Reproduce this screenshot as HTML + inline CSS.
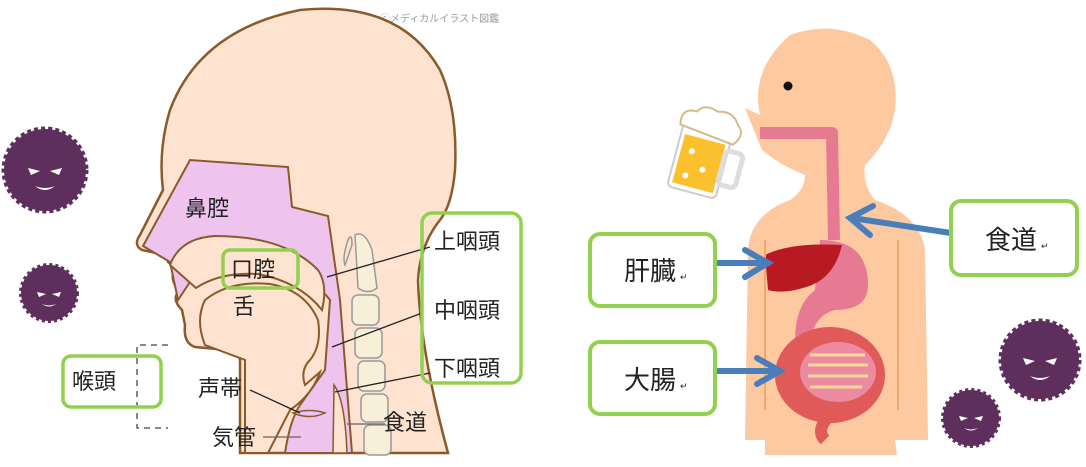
<!DOCTYPE html><html><head><meta charset="utf-8"><style>
body{margin:0;background:#fff;width:1086px;height:462px;overflow:hidden}
text{font-family:"Liberation Sans","Noto Sans CJK JP",sans-serif;fill:#222}
</style></head><body>
<svg width="1086" height="462" viewBox="0 0 1086 462" xmlns="http://www.w3.org/2000/svg">
<defs>
<g id="virus"><circle r="1" fill="#5e2f5c"/></g>
</defs>
<!-- viruses -->
<g>
<circle cx="45" cy="170" r="41" fill="#5e2f5c" stroke="#5e2f5c" stroke-width="5" stroke-dasharray="4 3"/>
<path d="M28 168 l12 3 l-9 4z M62 168 l-12 3 l9 4z" fill="#fff"/><path d="M35 186 q10 8 20 0 q-10 4 -20 0z" fill="#fff"/>
<circle cx="49" cy="293" r="28" fill="#5e2f5c" stroke="#5e2f5c" stroke-width="4" stroke-dasharray="3 3"/>
<path d="M37 292 l9 2 l-7 3z M61 292 l-9 2 l7 3z" fill="#fff"/><path d="M42 304 q7 5 14 0 q-7 3 -14 0z" fill="#fff"/>
<circle cx="1040" cy="360" r="39" fill="#5e2f5c" stroke="#5e2f5c" stroke-width="5" stroke-dasharray="4 3"/>
<path d="M1023 358 l12 3 l-9 4z M1057 358 l-12 3 l9 4z" fill="#fff"/><path d="M1030 376 q10 8 20 0 q-10 4 -20 0z" fill="#fff"/>
<circle cx="971" cy="418" r="28" fill="#5e2f5c" stroke="#5e2f5c" stroke-width="4" stroke-dasharray="3 3"/>
<path d="M959 416 l9 2 l-7 3z M983 416 l-9 2 l7 3z" fill="#fff"/><path d="M964 428 q7 5 14 0 q-7 3 -14 0z" fill="#fff"/>
</g>
<!-- head left -->
<text x="380" y="22" font-size="10" style="fill:#999">ⓒメディカルイラスト図鑑</text>
<path d="M240,453 L240,362 Q240,350 228,350 L195,347 Q183,343 185,325 L182,310 Q172,300 178,292 L175,285 Q170,275 176,268 L168,262 Q168,256 165,255 L142,250 Q133,245 140,235 L163,190 Q158,150 170,110 Q200,30 300,10 Q400,0 440,70 Q458,110 455,170 Q452,205 440,220 Q420,245 418,280 Q420,350 448,453 Z" fill="#fde3d0" stroke="#8a5a2b" stroke-width="2.5"/>
<path d="M143,246 L190,160 L288,167 L292,207 L328,216 L340,300 L352,453 L285,453 Q290,420 300,405 L325,370 L330,300 Q300,262 255,262 Q210,262 190,282 L178,300 L170,262 Z" fill="#eec3ee" stroke="#8a5a2b" stroke-width="2"/>
<path d="M170,265 Q180,238 215,236 Q285,236 318,270 Q328,285 322,310 Q300,282 258,274 Q220,272 196,288 Z" fill="#fde3d0" stroke="#8a5a2b" stroke-width="2"/>
<path d="M205,300 Q230,280 270,284 Q305,290 318,320 Q322,345 310,360 Q300,370 305,385 L320,372 Q312,395 290,410 L268,453 L245,453 L245,360 L205,345 Q195,320 205,300Z" fill="#fde3d0" stroke="#8a5a2b" stroke-width="2"/>
<path d="M293,413 Q310,408 325,413 Q310,420 293,413Z" fill="#eec3ee" stroke="#8a5a2b" stroke-width="1.5"/>
<path d="M334,385 Q345,400 347,453 L333,453 Z" fill="#fde3d0" stroke="#8a5a2b" stroke-width="1.5"/>
<!-- spine -->
<g fill="#f7efd8" stroke="#999" stroke-width="1.5">
<path d="M355,235 Q365,230 372,250 L377,288 Q368,295 358,288 Z"/>
<path d="M348,240 Q352,232 352,245 L345,265 Q342,258 348,240Z" fill="none"/>
<rect x="352" y="295" width="27" height="30" rx="6"/>
<rect x="355" y="328" width="27" height="30" rx="6"/>
<rect x="358" y="361" width="27" height="30" rx="6"/>
<rect x="361" y="394" width="27" height="28" rx="6"/>
<rect x="364" y="425" width="27" height="30" rx="6"/>
</g>
<!-- left labels -->
<g font-size="22">
<text x="185" y="216">鼻腔</text>
<text x="231" y="277">口腔</text>
<text x="233" y="314">舌</text>
<text x="198" y="396">声帯</text>
<text x="212" y="445">気管</text>
<text x="383" y="430">食道</text>
<text x="434" y="249">上咽頭</text>
<text x="434" y="318">中咽頭</text>
<text x="434" y="376">下咽頭</text>
<text x="72" y="389">喉頭</text>
</g>
<g stroke="#222" stroke-width="1.3">
<line x1="430" y1="247" x2="327" y2="277"/>
<line x1="422" y1="313" x2="332" y2="347"/>
<line x1="430" y1="373" x2="335" y2="392"/>
<line x1="250" y1="390" x2="300" y2="413"/>
<line x1="263" y1="437" x2="301" y2="437" stroke="#666"/>
<line x1="347" y1="424" x2="385" y2="424" stroke="#666"/>
</g>
<path d="M168,345 H137 V428 H168" fill="none" stroke="#444" stroke-width="1.3" stroke-dasharray="6 5"/>
<g fill="none" stroke="#92d050" stroke-width="3.5">
<rect x="223" y="250" width="75" height="38" rx="7"/>
<rect x="422" y="213" width="99" height="170" rx="10"/>
<rect x="63" y="356" width="98" height="51" rx="8"/>
</g>
<!-- right body -->
<path d="M760,115 Q750,70 790,35 Q830,20 870,40 Q900,65 895,110 Q890,140 865,165 Q862,185 875,200 Q920,215 925,250 L928,440 L895,440 L897,455 L765,455 L765,440 L745,440 L748,250 Q750,215 790,200 Q805,190 805,175 Q780,165 762,150 L745,108 Z" fill="#fcc9a0"/>
<circle cx="788" cy="86" r="4.5" fill="#111"/>
<path d="M760,133 L832,133 L834,240" fill="none" stroke="#e77a93" stroke-width="12" stroke-linejoin="round"/>
<path d="M820,240 Q868,240 868,285 Q868,310 835,310 Q815,315 810,340 L795,340 Q795,305 815,290 Z" fill="#e77a93"/>
<path d="M765,255 Q790,242 842,245 Q835,275 812,285 Q785,295 768,290 Z" fill="#b81a23"/>
<ellipse cx="830" cy="375" rx="55" ry="48" fill="#e05a5a"/>
<ellipse cx="838" cy="372" rx="38" ry="30" fill="#eb8aa0"/>
<g stroke="#f7d99a" stroke-width="3"><line x1="810" y1="355" x2="865" y2="355"/><line x1="808" y1="365" x2="868" y2="365"/><line x1="808" y1="376" x2="868" y2="376"/><line x1="810" y1="387" x2="862" y2="387"/></g>
<path d="M830,415 Q815,430 825,440" fill="none" stroke="#e05a5a" stroke-width="12"/>
<g stroke="#f5a66a" stroke-width="2" fill="none"><line x1="765" y1="240" x2="765" y2="410"/><line x1="898" y1="240" x2="898" y2="410"/></g>
<!-- beer -->
<g transform="rotate(15 705 160)">
<rect x="675" y="130" width="50" height="65" rx="5" fill="#fff" stroke="#ccc" stroke-width="2"/>
<rect x="679" y="140" width="42" height="50" fill="#fbc02d"/>
<rect x="723" y="145" width="18" height="35" rx="5" fill="none" stroke="#ddd" stroke-width="5"/>
<circle cx="690" cy="155" r="3" fill="#fff"/><circle cx="705" cy="170" r="3" fill="#fff"/><circle cx="690" cy="180" r="3" fill="#fff"/>
<path d="M672,132 Q668,115 685,115 Q690,105 705,110 Q720,105 728,118 Q738,125 728,138 Z" fill="#fff" stroke="#d9b98a" stroke-width="2"/>
</g>
<!-- arrows -->
<g stroke="#4a7ebb" stroke-width="6" fill="none" stroke-linecap="round">
<line x1="951" y1="233" x2="852" y2="218"/><path d="M873,206 L850,218 L870,235"/>
<line x1="715" y1="263" x2="768" y2="263"/><path d="M745,250 L768,263 L745,277"/>
<line x1="715" y1="371" x2="780" y2="371"/><path d="M757,358 L780,371 L757,384"/>
</g>
<g fill="#fff" stroke="#92d050" stroke-width="4">
<rect x="590" y="234" width="125" height="72" rx="10"/>
<rect x="590" y="342" width="125" height="72" rx="10"/>
<rect x="951" y="201" width="126" height="74" rx="10"/>
</g>
<g font-size="26">
<text x="624" y="280">肝臓</text>
<text x="624" y="389">大腸</text>
<text x="985" y="249">食道</text>
</g>
<g font-size="9" style="fill:#888"><text x="680" y="280">↵</text><text x="680" y="389">↵</text><text x="1041" y="249">↵</text></g>
</svg>
</body></html>
